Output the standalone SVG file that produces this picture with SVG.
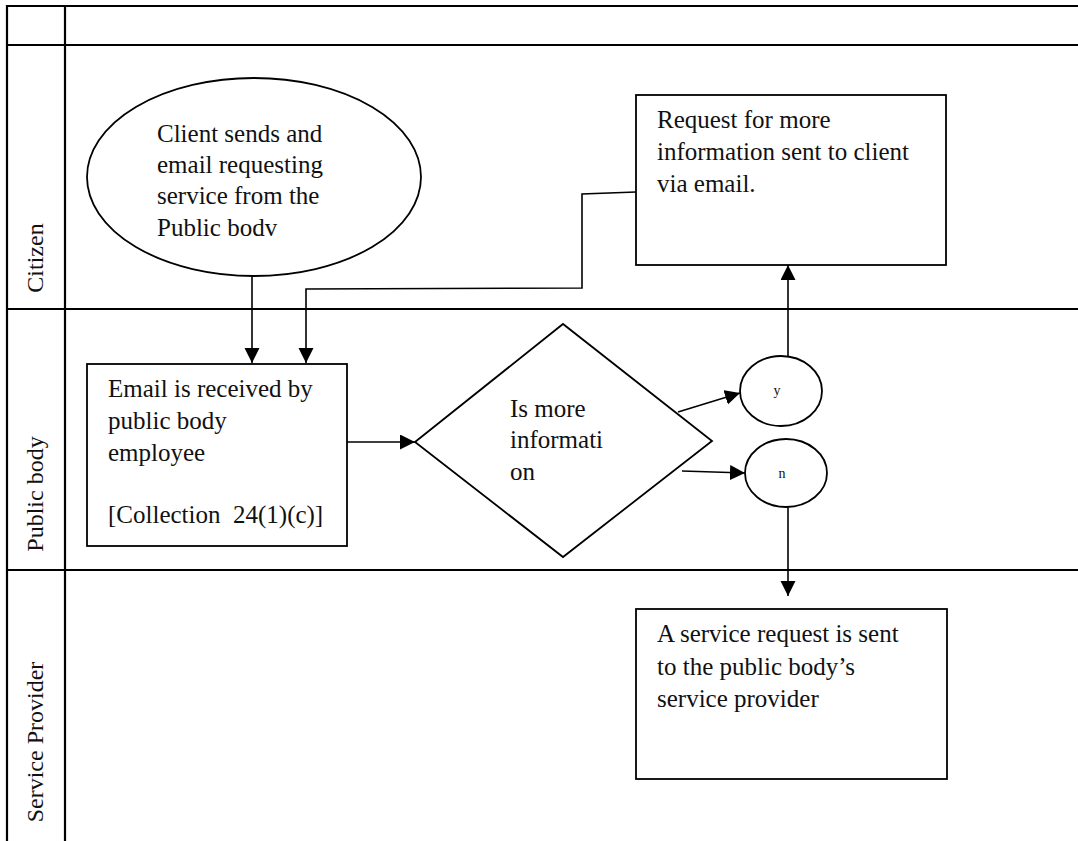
<svg xmlns="http://www.w3.org/2000/svg" width="1078" height="841" viewBox="0 0 1078 841">
  <defs>
    <style>
      .grid { stroke: #000; stroke-width: 2.2; fill: none; }
      .shape { stroke: #000; stroke-width: 1.8; fill: #fff; }
      .conn { stroke: #000; stroke-width: 1.6; fill: none; }
      .txt { font-family: "Liberation Serif", "Times New Roman", serif; font-size: 25px; fill: #111; }
      .lane { font-family: "Liberation Serif", "Times New Roman", serif; font-size: 24px; fill: #111; }
      .tag { font-family: "Liberation Serif", "Times New Roman", serif; font-size: 14px; fill: #111; text-anchor: middle; }
    </style>
    <marker id="arrow" markerUnits="userSpaceOnUse" markerWidth="16" markerHeight="16" refX="15" refY="7.5" orient="auto">
      <path d="M0,0 L15,7.5 L0,15 z" fill="#000"/>
    </marker>
  </defs>
  <rect width="1078" height="841" fill="#fff"/>

  <!-- swimlane table -->
  <g id="lanes">
    <line class="grid" x1="7" y1="6" x2="1078" y2="6"/>
    <line class="grid" x1="7" y1="45" x2="1078" y2="45"/>
    <line class="grid" x1="7" y1="309" x2="1078" y2="309"/>
    <line class="grid" x1="7" y1="570" x2="1078" y2="570"/>
    <line class="grid" x1="7" y1="5" x2="7" y2="841"/>
    <line class="grid" x1="65" y1="5" x2="65" y2="841"/>
    <text class="lane" transform="translate(43,258) rotate(-90)" text-anchor="middle">Citizen</text>
    <text class="lane" transform="translate(43,494) rotate(-90)" text-anchor="middle">Public body</text>
    <text class="lane" transform="translate(43,742) rotate(-90)" text-anchor="middle">Service Provider</text>
  </g>

  <!-- connectors -->
  <g id="connectors">
    <line class="conn" x1="252" y1="276" x2="252" y2="363" marker-end="url(#arrow)"/>
    <polyline class="conn" points="636,192 582,194 582,288 306,289 306,363" marker-end="url(#arrow)"/>
    <line class="conn" x1="347" y1="442" x2="415" y2="442" marker-end="url(#arrow)"/>
    <line class="conn" x1="678" y1="412" x2="740" y2="393" marker-end="url(#arrow)"/>
    <line class="conn" x1="682" y1="471" x2="745" y2="473" marker-end="url(#arrow)"/>
    <line class="conn" x1="788" y1="357" x2="788" y2="265" marker-end="url(#arrow)"/>
    <line class="conn" x1="788" y1="507" x2="788" y2="596" marker-end="url(#arrow)"/>
  </g>

  <g id="start">
    <ellipse class="shape" cx="254" cy="177" rx="167" ry="99"/>
    <text class="txt" x="157" y="142">Client sends and</text>
    <text class="txt" x="157" y="173">email requesting</text>
    <text class="txt" x="157" y="204">service from the</text>
    <text class="txt" x="157" y="236">Public bodv</text>
  </g>

  <g id="request-info">
    <rect class="shape" x="636" y="95" width="310" height="170"/>
    <text class="txt" x="657" y="128">Request for more</text>
    <text class="txt" x="657" y="160">information sent to client</text>
    <text class="txt" x="657" y="192">via email.</text>
  </g>

  <g id="received">
    <rect class="shape" x="87" y="364" width="260" height="182"/>
    <text class="txt" x="108" y="397">Email is received by</text>
    <text class="txt" x="108" y="429">public body</text>
    <text class="txt" x="108" y="461">employee</text>
    <text class="txt" x="108" y="523" xml:space="preserve">[Collection  24(1)(c)]</text>
  </g>

  <g id="decision">
    <polygon class="shape" points="415,442 563,324 712,441 563,557"/>
    <text class="txt" x="510" y="417">Is more</text>
    <text class="txt" x="510" y="448">informati</text>
    <text class="txt" x="510" y="480">on</text>
  </g>

  <g id="yes">
    <ellipse class="shape" cx="781" cy="391" rx="41" ry="35"/>
    <text class="tag" x="777" y="395">y</text>
  </g>

  <g id="no">
    <ellipse class="shape" cx="786" cy="473" rx="41" ry="34"/>
    <text class="tag" x="782" y="478">n</text>
  </g>

  <g id="service-request">
    <rect class="shape" x="636" y="609" width="311" height="170"/>
    <text class="txt" x="657" y="642">A service request is sent</text>
    <text class="txt" x="657" y="675">to the public body’s</text>
    <text class="txt" x="657" y="707">service provider</text>
  </g>
</svg>
